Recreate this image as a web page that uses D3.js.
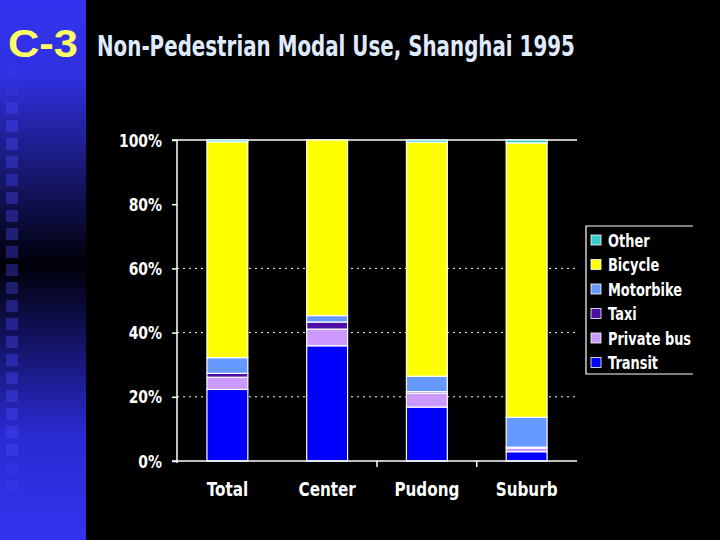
<!DOCTYPE html>
<html>
<head>
<meta charset="utf-8">
<script src="https://cdn.jsdelivr.net/npm/d3@7"></script>
<style>
  html, body { margin: 0; padding: 0; background: #000; }
  svg { display: block; }
  text { font-family: "DejaVu Sans", sans-serif; font-weight: bold; }
  text.arial { font-family: "Liberation Sans", Arial, sans-serif; }
</style>
</head>
<body>
<svg id="chart" width="720" height="540"></svg>
<script>
// data (percent shares)
const areas = ['Total', 'Center', 'Pudong', 'Suburb'];
const modes = ['Transit', 'Private bus', 'Taxi', 'Motorbike', 'Bicycle', 'Other'];
const transit    = [22.3, 35.9, 16.8, 2.9];
const privateBus = [3.8, 5.2, 4.3, 1.1];
const taxi       = [1.2, 2.2, 0.5, 0.3];
const motorbike  = [4.9, 2.0, 4.8, 9.3];
const bicycle    = [67.2, 54.7, 72.9, 85.5];
const other      = [0.6, 0.0, 0.7, 0.9];
const yTicks = [0, 20, 40, 60, 80, 100];
const gridTicks = [20, 40, 60];

const colors = {
  'Transit': '#0000ff',
  'Private bus': '#cc99ff',
  'Taxi': '#4b0fa8',
  'Motorbike': '#6699ff',
  'Bicycle': '#ffff00',
  'Other': '#33cccc'
};

const rows = areas.map((a, i) => ({
  area: a,
  'Transit': transit[i],
  'Private bus': privateBus[i],
  'Taxi': taxi[i],
  'Motorbike': motorbike[i],
  'Bicycle': bicycle[i],
  'Other': other[i]
}));

const svg = d3.select('#chart');

// squeeze a text horizontally around its anchor (slide font is very narrow)
function squeeze(sel, s) {
  sel.each(function() {
    const t = d3.select(this);
    const tx = +t.attr('x') || 0, ty = +t.attr('y') || 0;
    t.attr('x', 0).attr('y', 0)
      .attr('transform', `translate(${tx},${ty}) scale(${s},1)`);
  });
}
// squeeze to a given width
function fitTo(sel, w) {
  const n = sel.node().getComputedTextLength();
  sel.call(squeeze, w / n);
}

// left blue strip with gradient and squares
const defs = svg.append('defs');
const grad = defs.append('linearGradient').attr('id', 'strip').attr('x1', 0).attr('y1', 0).attr('x2', 0).attr('y2', 1);
grad.append('stop').attr('offset', '0%').attr('stop-color', '#3333f0');
grad.append('stop').attr('offset', '14%').attr('stop-color', '#3030e0');
grad.append('stop').attr('offset', '49%').attr('stop-color', '#000008');
grad.append('stop').attr('offset', '80%').attr('stop-color', '#2a2ad0');
grad.append('stop').attr('offset', '100%').attr('stop-color', '#3333f0');
svg.append('rect').attr('x', 0).attr('y', 0).attr('width', 86).attr('height', 540).attr('fill', 'url(#strip)');

svg.append('g').selectAll('rect')
  .data(d3.range(0, 24))
  .join('rect')
  .attr('x', 6)
  .attr('y', i => 66 + i * 18)
  .attr('width', 12)
  .attr('height', 12)
  .attr('fill', '#4a4aff')
  .attr('opacity', i => i < 2 || i > 21 ? 0.15 : 0.35);

svg.append('text')
  .attr('class', 'arial')
  .attr('x', 8).attr('y', 57)
  .attr('fill', '#ffff66')
  .attr('font-size', 38)
  .text('C-3')
  .call(fitTo, 70);

svg.append('text')
  .attr('x', 97).attr('y', 56)
  .attr('fill', '#dfeaff')
  .attr('font-size', 29)
  .text('Non-Pedestrian Modal Use, Shanghai 1995')
  .call(fitTo, 478);

// chart
const x0 = 177, x1 = 577, yTop = 140, yBot = 461;
const x = d3.scaleBand().domain(areas).range([x0, x1]).paddingInner(0.59).paddingOuter(0.3);
const y = d3.scaleLinear().domain([0, 100]).range([yBot, yTop]);

const series = d3.stack().keys(modes)(rows);

// dotted gridlines
svg.append('g').selectAll('line')
  .data(gridTicks)
  .join('line')
  .attr('x1', x0).attr('x2', x1)
  .attr('y1', d => y(d)).attr('y2', d => y(d))
  .attr('stroke', '#fff').attr('stroke-width', 1)
  .attr('stroke-dasharray', '2,4');

// top border
svg.append('line')
  .attr('x1', x0).attr('x2', x1)
  .attr('y1', y(100)).attr('y2', y(100))
  .attr('stroke', '#fff').attr('stroke-width', 1.5);

// bars
svg.append('g').selectAll('g')
  .data(series)
  .join('g')
  .attr('fill', d => colors[d.key])
  .selectAll('rect')
  .data(d => d.filter(s => s[1] - s[0] > 0))
  .join('rect')
  .attr('x', d => x(d.data.area))
  .attr('width', x.bandwidth())
  .attr('y', d => y(d[1]))
  .attr('height', d => y(d[0]) - y(d[1]))
  .attr('stroke', '#fff')
  .attr('stroke-width', 1.2);

// y axis
const yAxis = d3.axisLeft(y).tickValues(yTicks).tickSize(5).tickPadding(10).tickFormat(d => d + '%');
const gy = svg.append('g').attr('transform', `translate(${x0},0)`).call(yAxis);
gy.select('.domain').attr('stroke', '#fff').attr('stroke-width', 1.5).attr('d', `M-5,${yTop}H0V${yBot + 2}`);
gy.selectAll('.tick line').attr('stroke', '#fff').attr('stroke-width', 1.5);
gy.selectAll('.tick text')
  .attr('fill', '#fff')
  .attr('font-size', 17)
  .attr('dy', '0.36em')
  .attr('x', -15)
  .call(squeeze, 0.82);

// x axis
const xAxis = d3.axisBottom(x).tickSize(0).tickPadding(0);
const gx = svg.append('g').attr('transform', `translate(0,${yBot})`).call(xAxis);
gx.select('.domain').attr('stroke', '#fff').attr('stroke-width', 1.5).attr('d', `M${x0 - 5},0H${x1}`);
gx.selectAll('.tick text')
  .attr('fill', '#fff')
  .attr('font-size', 19)
  .attr('dy', null)
  .attr('y', 35)
  .call(squeeze, 0.8);
// separator ticks between categories (first one hidden on the slide)
const step = x.step();
gx.append('g').selectAll('line')
  .data(areas.slice(2))
  .join('line')
  .attr('x1', d => x(d) - step * 0.295).attr('x2', d => x(d) - step * 0.295)
  .attr('y1', 0).attr('y2', 6)
  .attr('stroke', '#fff').attr('stroke-width', 1.5);

// legend
const lg = svg.append('g').attr('transform', 'translate(586,226)');
lg.append('path').attr('d', 'M107,0H0V148H107').attr('fill', 'none').attr('stroke', '#fff').attr('stroke-width', 1.2);
const items = lg.selectAll('g.item')
  .data(modes.slice().reverse())
  .join('g')
  .attr('class', 'item')
  .attr('transform', (d, i) => `translate(0,${14 + i * 24.5})`);
items.append('rect')
  .attr('x', 5).attr('y', -5).attr('width', 10).attr('height', 10)
  .attr('fill', d => colors[d]).attr('stroke', '#fff').attr('stroke-width', 0.8);
items.append('text')
  .attr('x', 22).attr('y', 6.5)
  .attr('fill', '#fff')
  .attr('font-size', 17.5)
  .text(d => d)
  .call(squeeze, 0.74);
</script>
</body>
</html>
